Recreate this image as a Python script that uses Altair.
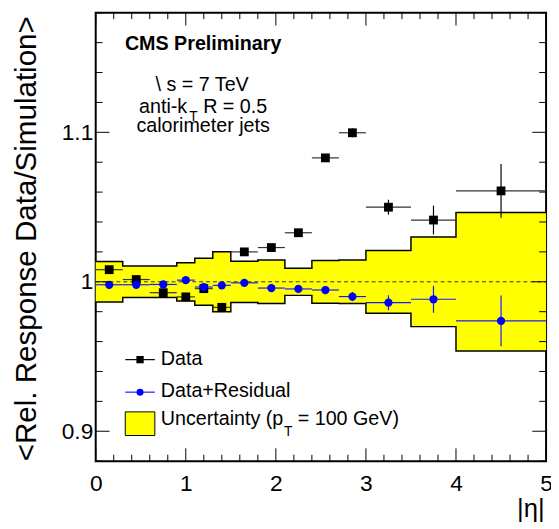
import altair as alt
import pandas as pd

# ---- data ----
bin_lo = [0.0, 0.3, 0.6, 0.9, 1.1, 1.3, 1.5, 1.8, 2.1, 2.4, 2.7, 3.0, 3.5, 4.0]
bin_hi = [0.3, 0.6, 0.9, 1.1, 1.3, 1.5, 1.8, 2.1, 2.4, 2.7, 3.0, 3.5, 4.0, 5.0]
eta_center = [0.15, 0.45, 0.75, 1.0, 1.2, 1.4, 1.65, 1.95, 2.25, 2.55, 2.85, 3.25, 3.75, 4.5]

data_resp = [1.0081, 1.0015, 0.9927, 0.9899, 0.9954, 0.9829, 1.0200, 1.0229,
             1.0328, 1.0829, 1.0997, 1.0499, 1.0413, 1.0608]
data_err = [0.001, 0.001, 0.001, 0.001, 0.0015, 0.0015, 0.002, 0.002,
            0.002, 0.002, 0.003, 0.005, 0.0096, 0.018]

resid_resp = [0.9980, 0.9980, 0.9982, 1.0011, 0.9965, 0.9976, 0.9993, 0.9958,
              0.9952, 0.9945, 0.9901, 0.9860, 0.9883, 0.9738]
resid_err = [0.001, 0.001, 0.001, 0.001, 0.0015, 0.0015, 0.002, 0.002,
             0.002, 0.002, 0.003, 0.005, 0.009, 0.017]

unc_half = [0.0136, 0.0105, 0.0105, 0.0128, 0.0157, 0.0201, 0.0138, 0.0146,
            0.0091, 0.0143, 0.0146, 0.0210, 0.0300, 0.0463]

x_major_ticks = [0, 1, 2, 3, 4, 5]
x_minor_ticks = [round(0.2 * i, 1) for i in range(26) if i % 5]
y_major_ticks = [0.9, 1.0, 1.1]
y_minor_ticks = [round(0.88 + 0.02 * i, 2) for i in range(16)
                 if round(0.88 + 0.02 * i, 2) not in (0.9, 1.0, 1.1)]

# ---- tables ----
W, H = 457, 455
FONT = "Liberation Sans"

pts = pd.DataFrame({
    "lo": bin_lo, "hi": bin_hi, "eta": eta_center,
    "d": data_resp, "d_lo": [v - e for v, e in zip(data_resp, data_err)],
    "d_hi": [v + e for v, e in zip(data_resp, data_err)],
    "r": resid_resp, "r_lo": [v - e for v, e in zip(resid_resp, resid_err)],
    "r_hi": [v + e for v, e in zip(resid_resp, resid_err)],
    "u_lo": [1 - u for u in unc_half], "u_hi": [1 + u for u in unc_half],
})

edges = bin_lo + [bin_hi[-1]]
step_rows = []
for side, sign in (("top", 1), ("bot", -1)):
    vals = [1 + sign * u for u in unc_half] + [1 + sign * unc_half[-1]]
    for e, v in zip(edges, vals):
        step_rows.append({"x": e, "y": v, "side": side})
steps = pd.DataFrame(step_rows)

xscale = alt.Scale(domain=[0, 5], nice=False, zero=False)
yscale = alt.Scale(domain=[0.88, 1.18], nice=False, zero=False)
xaxis = alt.Axis(values=x_major_ticks, ticks=False, tickSize=0, domain=False, grid=False,
                 labelFontSize=23, labelFont=FONT, labelColor="black", labelPadding=12,
                 labelFlush=False, labelOverlap=False,
                 title="|η|", titleFont=FONT, titleFontSize=26, titleFontWeight="normal",
                 titleColor="black", titleX=W - 2, titleY=56, titleAlign="right",
                 titleBaseline="alphabetic")
yaxis = alt.Axis(values=y_major_ticks, format="~g", ticks=False, tickSize=0, domain=False,
                 grid=False, labelFontSize=23, labelFont=FONT, labelColor="black",
                 labelPadding=3, labelFlush=False, labelOverlap=False,
                 title="<Rel. Response Data/Simulation>", titleFont=FONT, titleFontSize=30,
                 titleFontWeight="normal", titleColor="black", titleAngle=270,
                 titleX=-61, titleY=3, titleAlign="right", titleBaseline="alphabetic")


def X(f):
    return alt.X(f, type="quantitative", scale=xscale, axis=xaxis)


def Y(f):
    return alt.Y(f, type="quantitative", scale=yscale, axis=yaxis)


base = alt.Chart(pts)

band = base.mark_rect(color="#ffff00").encode(x=X("lo"), x2="hi", y=Y("u_lo"), y2="u_hi")
outline = alt.Chart(steps).mark_line(interpolate="step-after", color="black",
                                     strokeWidth=1.5).encode(
    x=X("x"), y=Y("y"), detail="side:N")
dashed = alt.Chart(pd.DataFrame({"a": [0]})).mark_rule(
    color="#333333", strokeDash=[4, 3], strokeWidth=1).encode(
    y=alt.Y(datum=1.0, type="quantitative", scale=yscale, axis=yaxis),
    x=alt.value(0), x2=alt.value(W))

d_h = base.mark_rule(color="#333333", strokeWidth=1.2).encode(x=X("lo"), x2="hi", y=Y("d"))
d_v = base.mark_rule(color="black", strokeWidth=1.2).encode(x=X("eta"), y=Y("d_lo"), y2="d_hi")
d_pt = base.mark_square(size=80, color="black", opacity=1).encode(x=X("eta"), y=Y("d"))

r_h = base.mark_rule(color="#1a1aff", strokeWidth=1.2).encode(x=X("lo"), x2="hi", y=Y("r"))
r_v = base.mark_rule(color="#1a1aff", strokeWidth=1.2).encode(x=X("eta"), y=Y("r_lo"), y2="r_hi")
r_pt = base.mark_circle(size=70, color="#0000ff", opacity=1).encode(x=X("eta"), y=Y("r"))

# ---- inward ticks on all four sides ----
def xticks(vals, length):
    c = alt.Chart(pd.DataFrame({"t": vals}))
    bot = c.mark_rule(color="black", strokeWidth=1).encode(
        x=X("t"), y=alt.value(H), y2=alt.value(H - length))
    top = c.mark_rule(color="black", strokeWidth=1).encode(
        x=X("t"), y=alt.value(0), y2=alt.value(length))
    return [bot, top]


def yticks(vals, length):
    c = alt.Chart(pd.DataFrame({"t": vals}))
    left = c.mark_rule(color="black", strokeWidth=1).encode(
        y=Y("t"), x=alt.value(0), x2=alt.value(length))
    right = c.mark_rule(color="black", strokeWidth=1).encode(
        y=Y("t"), x=alt.value(W), x2=alt.value(W - length))
    return [left, right]


ticks = (xticks(x_major_ticks, 13) + xticks(x_minor_ticks, 6.5)
         + yticks(y_major_ticks, 14) + yticks(y_minor_ticks, 7))

# ---- annotation texts ----
one = alt.Chart(pd.DataFrame({"a": [0]}))


def txt(s, x, y, size=20, align="left", weight="normal"):
    return one.mark_text(text=s, font=FONT, fontSize=size, align=align, baseline="alphabetic",
                         fontWeight=weight, color="black").encode(
        x=alt.value(x), y=alt.value(y))


texts = [
    txt("CMS Preliminary", 109, 38, size=20, align="center", weight="bold"),
    txt("\\ s = 7 TeV", 108, 79, align="center"),
    txt("anti-k", 44, 102),
    txt("T", 95, 110, size=14),
    txt("R = 0.5", 109, 102),
    txt("calorimeter jets", 109, 121, align="center"),
    # legend
    txt("Data", 66, 357),
    txt("Data+Residual", 66, 390),
    txt("Uncertainty (p", 66, 418),
    txt("T", 191, 429, size=14),
    txt("= 100 GeV)", 205, 418),
]

leg = [
    one.mark_rule(color="black", strokeWidth=1.2).encode(
        x=alt.value(30), x2=alt.value(60), y=alt.value(352)),
    one.mark_square(size=55, color="black", opacity=1).encode(x=alt.value(45), y=alt.value(352)),
    one.mark_rule(color="#1a1aff", strokeWidth=1.2).encode(
        x=alt.value(30), x2=alt.value(60), y=alt.value(385)),
    one.mark_circle(size=50, color="#0000ff", opacity=1).encode(x=alt.value(45), y=alt.value(385)),
    one.mark_rect(fill="#ffff00", stroke="black", strokeWidth=1).encode(
        x=alt.value(30), x2=alt.value(60), y=alt.value(405), y2=alt.value(429)),
]

chart = alt.layer(
    band, outline, dashed, d_h, d_v, d_pt, r_h, r_v, r_pt, *ticks, *texts, *leg
).properties(
    width=W, height=H,
    padding={"left": 89, "top": 1, "right": 5, "bottom": 62},
    autosize=alt.AutoSizeParams(type="none"),
    background="white",
).configure_view(stroke="black", strokeWidth=2)

chart.save("out.html", embed_options={"renderer": "svg", "actions": False})
